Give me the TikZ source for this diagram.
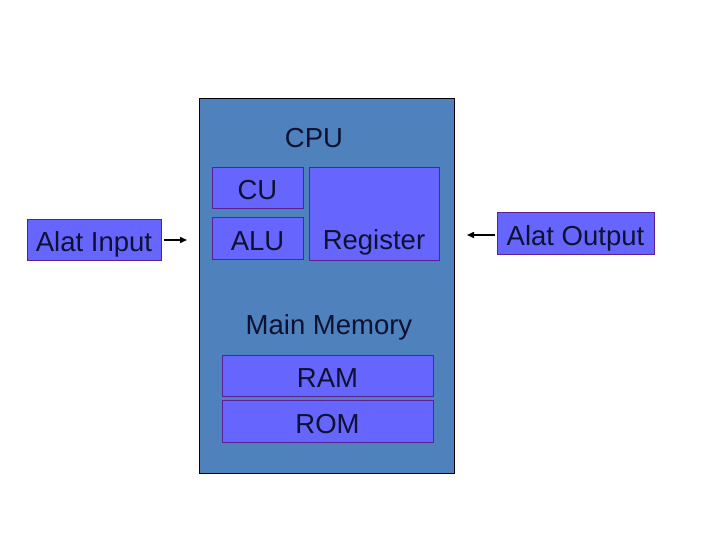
\documentclass[tikz,border=0pt]{standalone}
\usepackage{fontspec}
\setmainfont{Liberation Sans}
\usetikzlibrary{arrows.meta}

\definecolor{cpublue}{RGB}{79,129,189}
\definecolor{unitfill}{RGB}{102,102,255}
\definecolor{unitline}{RGB}{90,30,150}
\definecolor{inktext}{RGB}{14,18,48}

\tikzset{
  cpubox/.style={draw=black, line width=1pt, fill=cpublue, inner sep=0pt},
  unit/.style={draw=unitline, line width=1pt, fill=unitfill, inner sep=0pt,
    text=inktext, text height=23pt, text depth=0pt,
    font=\fontsize{27.5}{33}\selectfont},
  lbl/.style={text=inktext, font=\fontsize{27.5}{33}\selectfont, inner sep=0pt},
  flow/.style={line width=1.5pt, -{Triangle[length=7pt,width=6pt]}}
}

\begin{document}
\begin{tikzpicture}[x=1pt, y=-1pt]
      \useasboundingbox (0,0) rectangle (720,540);

      % CPU
      \node[cpubox, minimum width=255pt, minimum height=374pt] (cpu) at (326.5,286) {};
      \node[lbl] (cpulbl) at (314,138) {CPU};

      \node[unit, minimum width=91pt, minimum height=41pt] (cu) at (257.5,188.5) {CU};
      \node[unit, minimum width=91pt, minimum height=41pt] (alu) at (257.5,238.5) {ALU};
      \node[unit, minimum width=130pt, minimum height=92pt] (reg) at (374,214) {};
      \node[lbl] (reglbl) at (374,242.5) {Register};

      % memory
      \node[lbl] (memlbl) at (329,327.5) {Main Memory};
      \node[unit, minimum width=211pt, minimum height=41pt] (ram) at (327.5,375.5) {RAM};
      \node[unit, minimum width=211pt, minimum height=42pt] (rom) at (327.5,421.5) {ROM};

      % devices
      \node[unit, minimum width=134pt, minimum height=40pt] (in) at (94,240) {Alat Input};
      \node[unit, minimum width=157pt, minimum height=41pt] (out) at (575.5,233.5) {Alat Output};

      \coordinate (inend) at (187,240);
      \coordinate (outend) at (467,235);

      \draw[flow] (in.east) ++(2,0) -- (inend);
      \draw[flow] (out.west) ++(-2,1.5) -- (outend);
\end{tikzpicture}
\end{document}
